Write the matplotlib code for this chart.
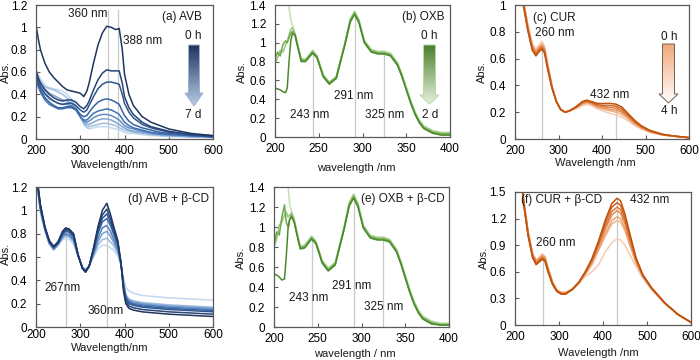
import numpy as np
import matplotlib
matplotlib.use('Agg')
import matplotlib.pyplot as plt
from matplotlib.patches import Polygon
from matplotlib.colors import to_rgb
from matplotlib.ticker import FuncFormatter

plt.rcParams['font.family'] = ['Liberation Sans', 'DejaVu Sans']
nan = np.nan

# ---------------- (a) AVB ----------------
WL_A = [200,205,210,220,230,240,250,260,270,280,290,300,308,315,320,330,340,350,360,370,380,388,395,400,410,420,440,460,480,500,550,600]
A0 = [1.02,0.90,0.80,0.68,0.60,0.55,0.51,0.47,0.44,0.43,0.42,0.41,0.38,0.43,0.50,0.68,0.84,0.95,1.01,1.00,0.98,0.99,0.80,0.58,0.40,0.30,0.20,0.15,0.12,0.09,0.05,0.03]
A1 = [0.62,0.55,0.50,0.44,0.40,0.37,0.35,0.34,0.35,0.35,0.33,0.29,0.27,0.30,0.34,0.44,0.53,0.59,0.62,0.61,0.61,0.61,0.50,0.38,0.28,0.22,0.15,0.11,0.09,0.07,0.04,0.03]
A2 = [0.58,0.52,0.47,0.41,0.37,0.34,0.32,0.31,0.32,0.32,0.30,0.26,0.24,0.26,0.30,0.38,0.45,0.49,0.51,0.51,0.50,0.49,0.40,0.32,0.24,0.19,0.13,0.10,0.08,0.06,0.04,0.02]
A3 = [0.55,0.49,0.44,0.37,0.33,0.30,0.28,0.28,0.29,0.29,0.27,0.22,0.20,0.21,0.24,0.29,0.33,0.35,0.36,0.35,0.33,0.31,0.25,0.21,0.16,0.13,0.10,0.08,0.06,0.05,0.03,0.02]
A4 = [0.52,0.47,0.42,0.35,0.31,0.29,0.27,0.27,0.28,0.28,0.26,0.20,0.17,0.17,0.19,0.23,0.25,0.26,0.27,0.26,0.24,0.22,0.18,0.15,0.12,0.10,0.08,0.06,0.05,0.04,0.03,0.02]
A5 = [0.55,0.50,0.46,0.40,0.36,0.34,0.32,0.31,0.31,0.30,0.27,0.20,0.16,0.15,0.16,0.19,0.21,0.22,0.22,0.21,0.19,0.17,0.14,0.12,0.10,0.09,0.07,0.05,0.04,0.04,0.03,0.02]
A6 = [0.58,0.53,0.50,0.45,0.41,0.39,0.37,0.35,0.34,0.32,0.28,0.20,0.15,0.13,0.13,0.15,0.17,0.18,0.18,0.17,0.15,0.13,0.11,0.10,0.08,0.07,0.06,0.05,0.04,0.03,0.02,0.02]
A7 = [0.60,0.55,0.52,0.47,0.45,0.44,0.42,0.40,0.37,0.34,0.29,0.20,0.14,0.11,0.11,0.12,0.13,0.14,0.14,0.13,0.12,0.10,0.09,0.08,0.07,0.06,0.05,0.04,0.03,0.03,0.02,0.02]
A8 = [0.62,0.57,0.54,0.48,0.46,0.45,0.44,0.43,0.40,0.36,0.30,0.20,0.13,0.10,0.09,0.10,0.11,0.11,0.11,0.10,0.09,0.08,0.07,0.06,0.05,0.05,0.04,0.03,0.03,0.02,0.02,0.01]
A_CURVES = [A0, A1, A2, A3, A4, A5, A6, A7, A8]
A_MARKS = [363, 386]

# ---------------- (b) OXB ----------------
WL_B = [200,203,206,209,212,214,216,218,220,223,226,230,235,243,248,255,262,270,280,286,291,296,302,310,318,325,332,340,345,350,355,360,365,370,380,390,400]
B0 = [0.52,0.51,0.50,0.48,0.47,0.52,0.80,1.02,1.10,1.08,0.96,0.80,0.80,0.89,0.84,0.64,0.56,0.62,0.98,1.22,1.30,1.21,1.00,0.90,0.88,0.88,0.86,0.76,0.64,0.50,0.36,0.24,0.15,0.09,0.04,0.02,0.02]
B1 = [0.83,0.90,0.86,0.98,1.02,1.00,1.05,1.10,1.12,1.07,0.95,0.81,0.81,0.90,0.85,0.65,0.57,0.63,0.99,1.23,1.31,1.22,1.01,0.91,0.89,0.89,0.87,0.77,0.65,0.51,0.37,0.25,0.16,0.10,0.05,0.03,0.03]
B2 = [0.78,0.84,0.92,0.90,0.97,1.02,1.08,1.14,1.16,1.09,0.97,0.82,0.82,0.91,0.86,0.66,0.58,0.64,1.00,1.25,1.33,1.24,1.02,0.92,0.90,0.90,0.88,0.78,0.66,0.52,0.38,0.26,0.17,0.11,0.06,0.04,0.04]
B3 = [nan,nan,nan,nan,nan,1.60,1.38,1.24,1.18,1.10,0.98,0.83,0.83,0.92,0.86,0.66,0.58,0.64,1.00,1.25,1.33,1.24,1.03,0.93,0.91,0.91,0.89,0.79,0.67,0.53,0.39,0.27,0.18,0.12,0.07,0.05,0.05]
B_CURVES = [B0, B1, B2, B3]
B_MARKS = [243, 291, 325]

# ---------------- (c) CUR ----------------
WL_C = [212,220,230,240,248,255,262,268,275,285,295,305,315,325,340,355,365,375,390,405,420,432,445,460,475,490,510,540,570,600]
C0 = [1.15,0.98,0.80,0.66,0.62,0.65,0.67,0.64,0.52,0.38,0.28,0.22,0.20,0.21,0.24,0.28,0.29,0.28,0.265,0.265,0.265,0.26,0.24,0.19,0.14,0.10,0.065,0.035,0.02,0.01]
C1 = [1.15,0.99,0.81,0.67,0.63,0.66,0.68,0.65,0.53,0.38,0.28,0.22,0.20,0.21,0.24,0.275,0.285,0.275,0.255,0.25,0.25,0.245,0.225,0.18,0.13,0.095,0.06,0.033,0.02,0.01]
C2 = [1.16,1.00,0.82,0.68,0.64,0.67,0.69,0.66,0.54,0.39,0.28,0.22,0.20,0.21,0.235,0.27,0.28,0.27,0.25,0.24,0.235,0.23,0.21,0.17,0.125,0.09,0.058,0.032,0.02,0.01]
C3 = [1.17,1.01,0.83,0.69,0.65,0.68,0.70,0.67,0.55,0.39,0.28,0.22,0.20,0.21,0.235,0.265,0.275,0.265,0.24,0.23,0.22,0.215,0.20,0.16,0.12,0.085,0.055,0.03,0.02,0.01]
C4 = [1.18,1.02,0.84,0.70,0.66,0.69,0.71,0.68,0.56,0.40,0.28,0.22,0.20,0.21,0.23,0.26,0.27,0.26,0.235,0.22,0.21,0.20,0.185,0.15,0.11,0.08,0.052,0.03,0.02,0.01]
C5 = [1.19,1.03,0.85,0.71,0.67,0.70,0.73,0.69,0.57,0.40,0.28,0.22,0.20,0.205,0.225,0.25,0.26,0.25,0.225,0.205,0.19,0.18,0.165,0.135,0.10,0.075,0.05,0.028,0.02,0.01]
C_CURVES = [C0, C1, C2, C3, C4, C5]
C_MARKS = [263, 432]

# ---------------- (d) AVB + b-CD ----------------
WL_D = [200,205,210,220,230,240,250,260,267,275,285,295,305,312,320,330,340,350,360,368,375,385,392,398,403,410,420,440,470,500,550,600]
D0 = [1.35,1.20,1.05,0.86,0.74,0.69,0.73,0.82,0.85,0.84,0.80,0.62,0.50,0.47,0.52,0.68,0.86,1.00,1.06,0.97,0.87,0.74,0.55,0.30,0.20,0.16,0.145,0.13,0.12,0.11,0.10,0.09]
D1 = [1.34,1.19,1.04,0.86,0.74,0.69,0.73,0.81,0.84,0.83,0.79,0.62,0.50,0.47,0.52,0.67,0.84,0.96,1.01,0.93,0.84,0.72,0.55,0.32,0.22,0.18,0.165,0.15,0.14,0.13,0.12,0.11]
D2 = [1.33,1.18,1.03,0.85,0.73,0.68,0.72,0.80,0.83,0.82,0.78,0.62,0.50,0.48,0.52,0.66,0.82,0.93,0.97,0.90,0.82,0.71,0.55,0.34,0.24,0.20,0.185,0.17,0.16,0.15,0.14,0.13]
D3 = [1.32,1.17,1.02,0.85,0.73,0.68,0.72,0.79,0.82,0.81,0.77,0.62,0.51,0.48,0.52,0.65,0.80,0.90,0.93,0.87,0.80,0.70,0.55,0.35,0.25,0.21,0.195,0.18,0.17,0.16,0.15,0.14]
D4 = [1.31,1.16,1.01,0.84,0.72,0.67,0.71,0.78,0.80,0.79,0.75,0.61,0.51,0.48,0.52,0.63,0.76,0.85,0.87,0.82,0.76,0.67,0.54,0.36,0.26,0.22,0.205,0.19,0.18,0.17,0.16,0.15]
D5 = [1.30,1.15,1.00,0.84,0.72,0.67,0.71,0.77,0.79,0.78,0.74,0.61,0.51,0.49,0.52,0.62,0.73,0.80,0.82,0.78,0.73,0.65,0.54,0.37,0.27,0.23,0.215,0.20,0.19,0.18,0.17,0.16]
D6 = [1.29,1.14,0.99,0.83,0.71,0.66,0.70,0.76,0.78,0.77,0.73,0.61,0.51,0.49,0.52,0.61,0.70,0.75,0.76,0.73,0.70,0.63,0.53,0.38,0.28,0.24,0.225,0.21,0.20,0.19,0.18,0.17]
D7 = [1.28,1.13,0.98,0.82,0.71,0.66,0.70,0.75,0.76,0.75,0.71,0.60,0.51,0.50,0.53,0.60,0.67,0.70,0.70,0.68,0.66,0.61,0.53,0.42,0.34,0.31,0.29,0.27,0.26,0.25,0.24,0.23]
D_CURVES = [D0, D1, D2, D3, D4, D5, D6, D7]
D_MARKS = [267, 360]

# ---------------- (e) OXB + b-CD ----------------
WL_E = [200,203,206,209,212,214,216,218,220,223,226,230,235,243,248,255,262,270,280,286,291,296,302,310,318,325,332,340,345,350,355,360,365,370,380,390,400]
E0 = [0.53,0.52,0.50,0.47,0.48,0.70,0.98,1.08,1.10,1.05,0.93,0.78,0.79,0.88,0.83,0.64,0.56,0.62,0.97,1.21,1.29,1.20,0.99,0.89,0.87,0.87,0.85,0.75,0.63,0.49,0.35,0.23,0.14,0.08,0.03,0.02,0.02]
E1 = [0.82,0.95,0.92,1.10,1.22,1.05,1.00,1.08,1.12,1.06,0.94,0.79,0.80,0.89,0.84,0.65,0.57,0.63,0.98,1.22,1.30,1.21,1.00,0.90,0.88,0.88,0.86,0.76,0.64,0.50,0.36,0.24,0.15,0.09,0.04,0.02,0.02]
E2 = [0.80,0.88,1.02,1.05,1.12,1.15,1.10,1.12,1.14,1.07,0.95,0.80,0.81,0.90,0.85,0.66,0.58,0.64,0.99,1.24,1.32,1.23,1.01,0.91,0.89,0.89,0.87,0.77,0.65,0.51,0.37,0.25,0.16,0.10,0.05,0.03,0.03]
E3 = [nan,nan,nan,nan,nan,1.70,1.42,1.22,1.16,1.08,0.96,0.81,0.82,0.91,0.86,0.67,0.59,0.65,1.00,1.25,1.33,1.24,1.02,0.92,0.90,0.90,0.88,0.78,0.66,0.52,0.38,0.26,0.17,0.11,0.06,0.04,0.04]
E_CURVES = [E0, E1, E2, E3]
E_MARKS = [243, 291, 325]

# ---------------- (f) CUR + b-CD ----------------
WL_F = [212,220,230,240,248,255,262,268,275,285,295,305,315,330,345,360,375,390,405,420,432,440,450,460,475,490,510,540,570,600]
F0 = [1.75,1.35,1.00,0.76,0.68,0.71,0.74,0.72,0.60,0.46,0.38,0.35,0.35,0.40,0.48,0.60,0.75,0.95,1.18,1.37,1.43,1.40,1.25,1.05,0.76,0.57,0.42,0.25,0.12,0.03]
F1 = [1.76,1.36,1.01,0.77,0.69,0.72,0.75,0.73,0.61,0.47,0.38,0.35,0.35,0.40,0.48,0.60,0.74,0.93,1.15,1.33,1.38,1.35,1.21,1.02,0.75,0.57,0.42,0.25,0.12,0.03]
F2 = [1.77,1.37,1.02,0.78,0.70,0.73,0.76,0.74,0.62,0.47,0.38,0.35,0.35,0.40,0.48,0.60,0.73,0.91,1.11,1.28,1.33,1.30,1.17,0.99,0.74,0.56,0.42,0.25,0.12,0.03]
F3 = [1.78,1.38,1.03,0.79,0.71,0.74,0.77,0.75,0.63,0.48,0.39,0.36,0.36,0.40,0.48,0.59,0.72,0.89,1.08,1.24,1.29,1.26,1.14,0.97,0.73,0.56,0.42,0.25,0.12,0.03]
F4 = [1.79,1.39,1.04,0.80,0.72,0.75,0.78,0.76,0.64,0.48,0.39,0.36,0.36,0.40,0.47,0.58,0.70,0.86,1.03,1.18,1.22,1.20,1.09,0.93,0.71,0.55,0.41,0.25,0.12,0.03]
F5 = [1.80,1.40,1.05,0.81,0.73,0.76,0.80,0.77,0.65,0.49,0.40,0.37,0.37,0.40,0.47,0.57,0.68,0.84,1.00,1.14,1.18,1.16,1.06,0.91,0.70,0.55,0.41,0.25,0.12,0.03]
F6 = [1.80,1.40,1.05,0.81,0.73,0.76,0.80,0.77,0.65,0.49,0.40,0.37,0.37,0.41,0.47,0.55,0.60,0.68,0.82,0.93,0.97,0.96,0.90,0.80,0.66,0.53,0.40,0.24,0.12,0.03]
F_CURVES = [F0, F1, F2, F3, F4, F5, F6]
F_MARKS = [263, 432]

# ---------------------------------------------------------------
def ramp(stops, n):
    stops = [np.array(to_rgb(s)) for s in stops]
    out = []
    for i in range(n):
        t = i / (n - 1) * (len(stops) - 1)
        k = min(int(t), len(stops) - 2)
        f = t - k
        out.append(tuple(stops[k] + (stops[k + 1] - stops[k]) * f))
    return out

BLUES = ['#1f3560', '#3f72b5', '#c3d8ef']
GREENS = ['#4a8a2a', '#7db95e', '#c4e0b2']
ORANGES = ['#c0530c', '#e88a4f', '#f6cbb3']

fig = plt.figure(figsize=(7, 3.6), dpi=100)

def px_axes(l, t, r, b):
    return fig.add_axes([l / 700, 1 - b / 360, (r - l) / 700, (b - t) / 360])

def panel(box, wl, curves, cmap, marks, xlim, xticks, ylim, yticks, mark_top=None, xpad=4.5):
    ax = px_axes(*box)
    cols = ramp(cmap, len(curves))
    wl = np.array(wl, float)
    for m in marks:
        if mark_top is not None:
            top = mark_top
        else:
            top = max(np.interp(m, wl, np.nan_to_num(np.array(c, float), nan=0)) for c in curves)
        ax.plot([m, m], [0, top], color='#c8c8c8', lw=0.9, zorder=1)
    for c, col in reversed(list(zip(curves, cols))):
        ax.plot(wl, c, color=col, lw=1.1, zorder=2)
    ax.set_xlim(xlim); ax.set_ylim(ylim)
    ax.set_xticks(xticks); ax.set_yticks(yticks)
    ax.yaxis.set_major_formatter(FuncFormatter(lambda v, p: f'{v:g}'))
    ax.tick_params(direction='in', length=3, width=0.8, color='#595959', labelsize=8.5)
    ax.tick_params(axis='y', pad=6.5)
    ax.tick_params(axis='x', pad=xpad)
    for s in ax.spines.values():
        s.set_color('#595959'); s.set_linewidth(0.9)
    return ax

panel((36, 5, 213, 139), WL_A, A_CURVES, BLUES, A_MARKS, (200, 600), [200, 300, 400, 500, 600],
      (0, 1.2), [0, 0.2, 0.4, 0.6, 0.8, 1.0, 1.2], mark_top=1.155)
panel((275, 5, 450, 137), WL_B, B_CURVES, GREENS, B_MARKS, (200, 400), [200, 250, 300, 350, 400],
      (0, 1.4), [0, 0.2, 0.4, 0.6, 0.8, 1.0, 1.2, 1.4])
panel((515, 5, 689, 139), WL_C, C_CURVES, ORANGES, C_MARKS, (200, 600), [200, 300, 400, 500, 600],
      (0, 1.0), [0, 0.2, 0.4, 0.6, 0.8, 1.0])
panel((36, 187, 213, 327), WL_D, D_CURVES, BLUES, D_MARKS, (200, 600), [200, 300, 400, 500, 600],
      (0, 1.2), [0, 0.2, 0.4, 0.6, 0.8, 1.0, 1.2], xpad=1.5)
panel((274, 187, 449, 327), WL_E, E_CURVES, GREENS, E_MARKS, (200, 400), [200, 250, 300, 350, 400],
      (0, 1.4), [0, 0.2, 0.4, 0.6, 0.8, 1.0, 1.2, 1.4])
panel((515, 192, 691, 325), WL_F, F_CURVES, ORANGES, F_MARKS, (200, 600), [200, 300, 400, 500, 600],
      (0, 1.5), [0, 0.3, 0.6, 0.9, 1.2, 1.5])

# overlay in pixel coordinates
ov = fig.add_axes([0, 0, 1, 1], zorder=10)
ov.set_facecolor('none')
ov.axis('off')

def grad_arrow(xc, top, hstart, tip, hws, hwh, c_top, c_bot, edge):
    verts = [(xc - hws, top), (xc + hws, top), (xc + hws, hstart), (xc + hwh, hstart),
             (xc, tip), (xc - hwh, hstart), (xc - hws, hstart)]
    poly = Polygon(verts, closed=True, facecolor='none', edgecolor=edge, lw=0.7, zorder=3)
    ov.add_patch(poly)
    c1 = np.array(to_rgb(c_top)); c2 = np.array(to_rgb(c_bot))
    t = np.linspace(0, 1, 120)[:, None]
    grad = (c1[None, :] + (c2 - c1)[None, :] * t)[:, None, :]
    im = ov.imshow(grad, extent=(xc - hwh, xc + hwh, tip, top), origin='upper',
                   aspect='auto', zorder=2, interpolation='bilinear')
    im.set_clip_path(poly)

grad_arrow(194, 45, 93, 106, 5.5, 9, '#1f3560', '#b7cbe6', '#9fb3d1')
grad_arrow(429.5, 45, 95, 104, 6, 9.5, '#4a7f2b', '#e6f2de', '#b9d7a6')
grad_arrow(668.5, 44, 94, 103, 6, 9.5, '#f2a878', '#ffffff', '#6e6259')

ov.set_xlim(0, 700); ov.set_ylim(360, 0)

def T(x, y, s, size=8.5, **kw):
    ov.text(x, y, s, ha='center', va='center', fontsize=size, color='#1a1a1a', **kw)

# (a)
T(88, 14, '360 nm'); T(143, 41, '388 nm'); T(182, 17, '(a) AVB')
T(193, 36, '0 h'); T(193, 115, '7 d')
T(6, 72, 'Abs.', 8, rotation=90); T(110, 165, 'Wavelength/nm', 8)
# (b)
T(423, 17, '(b) OXB'); T(429, 36, '0 h'); T(430, 114.5, '2 d')
T(353.5, 96, '291 nm'); T(310, 115, '243 nm'); T(385, 115, '325 nm')
T(242, 72, 'Abs.', 8, rotation=90); T(356, 168, 'wavelength /nm', 8)
# (c)
T(554, 18, '(c) CUR'); T(555, 33, '260 nm'); T(610, 95, '432 nm')
T(669, 37, '0 h'); T(669, 111, '4 h')
T(482, 72, 'Abs.', 8, rotation=90); T(595, 163, 'Wavelength /nm', 8)
# (d)
T(168.5, 199, '(d) AVB + β-CD'); T(63, 288, '267nm'); T(106, 311, '360nm')
T(6, 254, 'Abs.', 8, rotation=90); T(110, 348, 'Wavelength/nm', 8)
# (e)
T(403, 199, '(e) OXB + β-CD'); T(352, 286, '291 nm'); T(309, 298, '243 nm'); T(384, 307, '325 nm')
T(241, 258, 'Abs.', 8, rotation=90); T(355, 354, 'wavelength / nm', 8)
# (f)
T(561.5, 200, '(f) CUR + β-CD'); T(650, 200, '432 nm'); T(556, 243, '260 nm')
T(484, 258, 'Abs.', 8, rotation=90); T(598, 353, 'Wavelength /nm', 8)

fig.savefig('out.png', dpi=100)
